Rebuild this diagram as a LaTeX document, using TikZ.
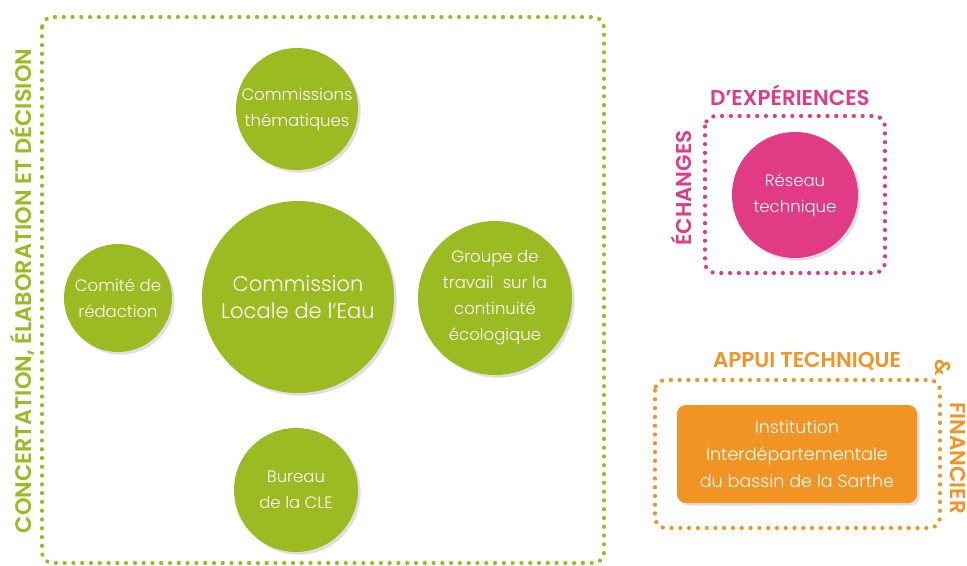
\documentclass[tikz,border=0pt]{standalone}
\usepackage{fontspec}
\setmainfont{Poppins}[UprightFont=* Light, BoldFont=* SemiBold]
\usetikzlibrary{shadows}

\definecolor{vert}{HTML}{9CBA21}
\definecolor{rose}{HTML}{E03B84}
\definecolor{orange}{HTML}{F29424}

\tikzset{
  bulle/.style={circle, fill=vert, text=white, align=center, inner sep=0pt,
    drop shadow={opacity=0.25, shadow xshift=1.5pt, shadow yshift=-1.5pt}},
  cadre/.style={line width=2.4pt, line cap=round, dash pattern=on 0pt off 5pt, rounded corners=6pt},
  titre/.style={font=\bfseries\fontsize{12.2}{14}\selectfont, inner sep=0pt}
}

\begin{document}
\begin{tikzpicture}[x=0.02cm,y=-0.02cm]
\useasboundingbox (0,0) rectangle (967,565);

\def\petit{\fontsize{9.4}{14.8}\selectfont}

% concertation
\draw[cadre, vert] (42,17) rectangle (604,563);
\node[titre, text=vert, rotate=90, font=\bfseries\fontsize{12.8}{14}\selectfont] (concert) at (22,291) {CONCERTATION, ÉLABORATION ET DÉCISION};

\node[bulle, minimum size=192*0.02cm, font=\fontsize{12}{15}\selectfont] (cle) at (298,297) {Commission\\Locale de l'Eau};
\node[bulle, minimum size=122*0.02cm, font=\petit] (comthem) at (297,109) {Commissions\\thématiques};
\node[bulle, minimum size=108*0.02cm, font=\petit] (comred) at (118,298) {Comité de\\rédaction};
\node[bulle, minimum size=154*0.02cm, font=\petit] (groupe) at (495,298) {Groupe de\\travail\ \ sur la\\continuité\\écologique};
\node[bulle, minimum size=124*0.02cm, font=\petit] (bureau) at (296,490) {Bureau\\de la CLE};

% echanges
\draw[cadre, rose] (705,116) rectangle (885,273);
\node[titre, text=rose] (experiences) at (790,95) {D'EXPÉRIENCES};
\node[titre, text=rose, rotate=90] (echanges) at (681,188) {ÉCHANGES};
\node[bulle, fill=rose, minimum size=126*0.02cm, font=\petit] (reseau) at (795,195) {Réseau\\technique};

% appui
\draw[cadre, orange] (655,380) rectangle (940,528);
\node[titre, text=orange] (appui) at (807,361) {APPUI TECHNIQUE};
\node[titre, text=orange, rotate=-90] (et) at (943,368) {\&};
\node[titre, text=orange, rotate=-90] (financier) at (958,458) {FINANCIER};
\node[rectangle, rounded corners=5pt, fill=orange, text=white, align=center,
  minimum width=240*0.02cm, minimum height=98*0.02cm, font=\fontsize{10}{15.2}\selectfont,
  drop shadow={opacity=0.25, shadow xshift=1.5pt, shadow yshift=-1.5pt}] (institution) at (797,454)
  {Institution\\Interdépartementale\\du bassin de la Sarthe};

\end{tikzpicture}
\end{document}
